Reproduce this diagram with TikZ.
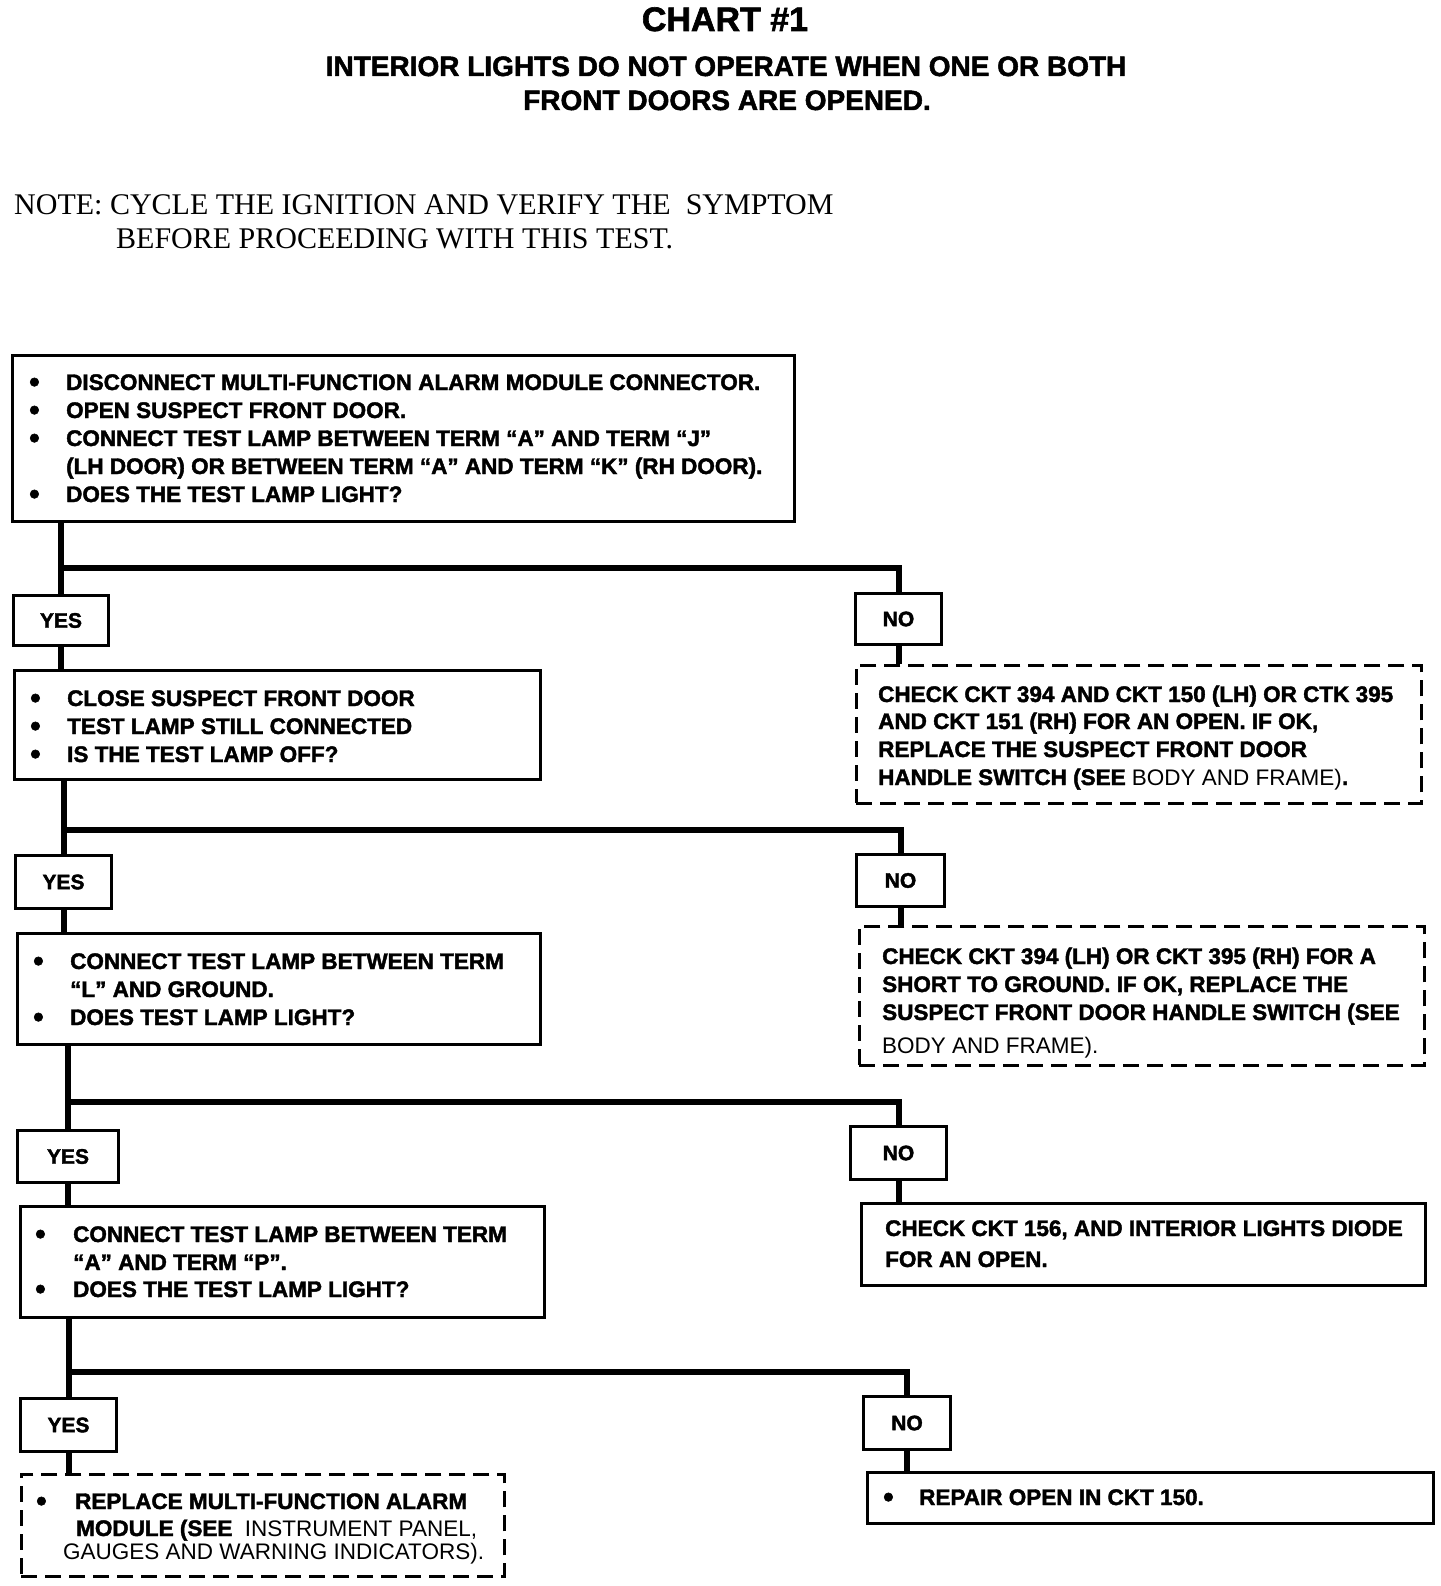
\documentclass[tikz,border=0pt]{standalone}
\usepackage{fontspec}
\setmainfont{Liberation Sans}
\newfontfamily\chb[FakeBold=1.8]{Liberation Sans Bold}
\newfontfamily\chr{Liberation Sans}
\newfontfamily\chs{Liberation Serif}
\begin{document}
\begin{tikzpicture}[x=1pt,y=-1pt,
  box/.style={draw, line width=3pt, inner sep=0pt, anchor=north west, font=\chb\fontsize{21}{21}\selectfont},
  dbox/.style={box, dash pattern=on 16pt off 8pt, line width=2.5pt},
  conn/.style={line width=6pt},
  txt/.style={anchor=base west, inner sep=0pt, font=\chb\fontsize{22.5}{28}\selectfont},
  reg/.style={txt, font=\chr\fontsize{22.5}{28}\selectfont},
  bul/.style={anchor=base west, inner sep=0pt, font=\chb\fontsize{30}{30}\selectfont}]
\useasboundingbox (0,0) rectangle (1440,1586);

% titles
\node[anchor=base, inner sep=0pt, font=\chb\fontsize{34}{34}\selectfont] (title) at (725,31) {CHART \#1};
\node[anchor=base, inner sep=0pt, font=\chb\fontsize{28}{28}\selectfont] (sub1) at (726,76) {INTERIOR LIGHTS DO NOT OPERATE WHEN ONE OR BOTH};
\node[anchor=base, inner sep=0pt, font=\chb\fontsize{28}{28}\selectfont] (sub2) at (727,110) {FRONT DOORS ARE OPENED.};
\node[anchor=base west, inner sep=0pt, font=\chs\fontsize{30}{30}\selectfont] (note1) at (14,215) {NOTE: CYCLE THE IGNITION AND VERIFY THE \ SYMPTOM};
\node[anchor=base west, inner sep=0pt, font=\chs\fontsize{30}{30}\selectfont] (note2) at (116,249) {BEFORE PROCEEDING WITH THIS TEST.};

% boxes
\node[box, minimum width=782pt, minimum height=166pt] (b1) at (11,354) {};
\node[box, minimum width=95pt, minimum height=50pt] (y1) at (12,594) {YES};
\node[box, minimum width=86pt, minimum height=51pt] (n1) at (854,592) {NO};
\node[box, minimum width=526pt, minimum height=109pt] (b2) at (13,669) {};
\node[dbox, minimum width=565pt, minimum height=138pt] (d2) at (855,664) {};
\node[box, minimum width=96pt, minimum height=53pt] (y2) at (14,854) {YES};
\node[box, minimum width=88pt, minimum height=52pt] (n2) at (855,853) {NO};
\node[box, minimum width=523pt, minimum height=111pt] (b3) at (16,932) {};
\node[dbox, minimum width=565pt, minimum height=139pt] (d3) at (858,925) {};
\node[box, minimum width=101pt, minimum height=52pt] (y3) at (16,1129) {YES};
\node[box, minimum width=96pt, minimum height=53pt] (n3) at (849,1125) {NO};
\node[box, minimum width=524pt, minimum height=111pt] (b4) at (19,1205) {};
\node[box, minimum width=564pt, minimum height=82pt] (r4) at (860,1202) {};
\node[box, minimum width=96pt, minimum height=53pt] (y4) at (19,1397) {YES};
\node[box, minimum width=87pt, minimum height=53pt] (n4) at (862,1395) {NO};
\node[dbox, minimum width=483pt, minimum height=102pt] (d5) at (20,1473) {};
\node[box, minimum width=566pt, minimum height=51pt] (r5) at (866,1471) {};

% texts box 1
\node[bul] (t1b1) at (29,392) {•};
\node[txt] (t1a) at (66,390) {DISCONNECT MULTI-FUNCTION ALARM MODULE CONNECTOR.};
\node[bul] (t1b2) at (29,420) {•};
\node[txt] (t1c) at (66,418) {OPEN SUSPECT FRONT DOOR.};
\node[bul] (t1b3) at (29,448) {•};
\node[txt] (t1d) at (66,446) {CONNECT TEST LAMP BETWEEN TERM “A” AND TERM “J”};
\node[txt] (t1e) at (66,474) {(LH DOOR) OR BETWEEN TERM “A” AND TERM “K” (RH DOOR).};
\node[bul] (t1b4) at (29,504) {•};
\node[txt] (t1f) at (66,502) {DOES THE TEST LAMP LIGHT?};

% box 2
\node[bul] (t2b1) at (30,708) {•};
\node[txt] (t2a) at (67,706) {CLOSE SUSPECT FRONT DOOR};
\node[bul] (t2b2) at (30,736) {•};
\node[txt] (t2c) at (67,734) {TEST LAMP STILL CONNECTED};
\node[bul] (t2b3) at (30,764) {•};
\node[txt] (t2d) at (67,762) {IS THE TEST LAMP OFF?};

% dashed 2
\node[txt] (u2a) at (878,702) {CHECK CKT 394 AND CKT 150 (LH) OR CTK 395};
\node[txt] (u2b) at (878,729) {AND CKT 151 (RH) FOR AN OPEN. IF OK,};
\node[txt] (u2c) at (878,757) {REPLACE THE SUSPECT FRONT DOOR};
\node[txt] (u2d) at (878,785) {HANDLE SWITCH (SEE {\chr BODY AND FRAME)}.};

% box 3
\node[bul] (t3b1) at (33,971) {•};
\node[txt] (t3a) at (70,969) {CONNECT TEST LAMP BETWEEN TERM};
\node[txt] (t3c) at (70,997) {“L” AND GROUND.};
\node[bul] (t3b2) at (33,1027) {•};
\node[txt] (t3d) at (70,1025) {DOES TEST LAMP LIGHT?};

% dashed 3
\node[txt] (u3a) at (882,964) {CHECK CKT 394 (LH) OR CKT 395 (RH) FOR A};
\node[txt] (u3b) at (882,992) {SHORT TO GROUND. IF OK, REPLACE THE};
\node[txt] (u3c) at (882,1020) {SUSPECT FRONT DOOR HANDLE SWITCH (SEE};
\node[reg] (u3d) at (882,1053) {BODY AND FRAME).};

% box 4
\node[bul] (t4b1) at (35,1244) {•};
\node[txt] (t4a) at (73,1242) {CONNECT TEST LAMP BETWEEN TERM};
\node[txt] (t4c) at (73,1270) {“A” AND TERM “P”.};
\node[bul] (t4b2) at (35,1299) {•};
\node[txt] (t4d) at (73,1297) {DOES THE TEST LAMP LIGHT?};

% right 4
\node[txt] (u4a) at (885,1236) {CHECK CKT 156, AND INTERIOR LIGHTS DIODE};
\node[txt] (u4b) at (885,1267) {FOR AN OPEN.};

% bottom left
\node[bul] (t5b1) at (36,1511) {•};
\node[txt] (t5a) at (75,1509) {REPLACE MULTI-FUNCTION ALARM};
\node[txt] (t5c) at (76,1536) {MODULE (SEE {\chr\ INSTRUMENT PANEL,}};
\node[reg] (t5d) at (63,1559) {GAUGES AND WARNING INDICATORS).};

% bottom right
\node[bul] (t6b1) at (883,1507) {•};
\node[txt] (t6a) at (919,1505) {REPAIR OPEN IN CKT 150.};

% connectors
\coordinate (h1) at (0,568);
\coordinate (h2) at (0,830);
\coordinate (h3) at (0,1102);
\coordinate (h4) at (0,1372);
\draw[conn] (y1.north |- b1.south) -- (y1.north);
\draw[conn] (y1.north |- h1) -| (n1.north);
\draw[conn] (y1.south) -- (y1.south |- b2.north);
\draw[conn] (n1.south) -- (n1.south |- d2.north);
\draw[conn] (y2.north |- b2.south) -- (y2.north);
\draw[conn] (y2.north |- h2) -| (n2.north);
\draw[conn] (y2.south) -- (y2.south |- b3.north);
\draw[conn] (n2.south) -- (n2.south |- d3.north);
\draw[conn] (y3.north |- b3.south) -- (y3.north);
\draw[conn] (y3.north |- h3) -| (n3.north);
\draw[conn] (y3.south) -- (y3.south |- b4.north);
\draw[conn] (n3.south) -- (n3.south |- r4.north);
\draw[conn] (y4.north |- b4.south) -- (y4.north);
\draw[conn] (y4.north |- h4) -| (n4.north);
\draw[conn] (y4.south) -- (y4.south |- d5.north);
\draw[conn] (n4.south) -- (n4.south |- r5.north);
\end{tikzpicture}
\end{document}
